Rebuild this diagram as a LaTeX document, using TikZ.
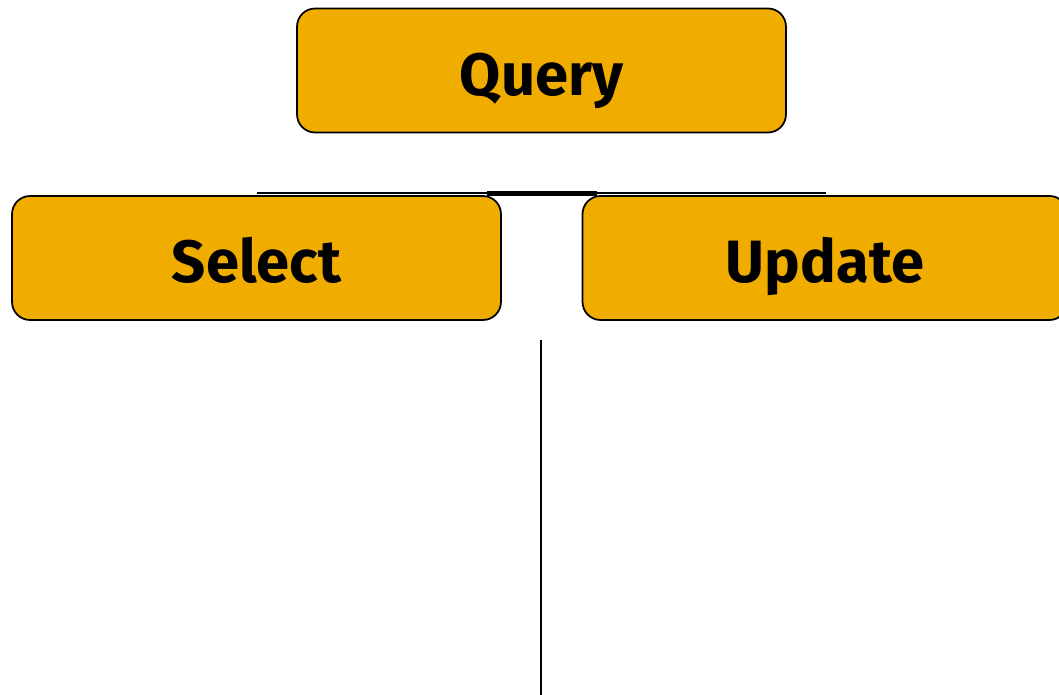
\documentclass[tikz,border=0pt]{standalone}
\usepackage{fontspec}
\setmainfont{Fira Sans}
\usepackage{tikz}
\usetikzlibrary{positioning}

\definecolor{boxgold}{RGB}{240,173,0}
\tikzset{
  qbox/.style={draw=black, line width=1pt, fill=boxgold, rounded corners=0.36cm,
    minimum width=9.78cm, minimum height=2.48cm,
    text height=1.15cm, text depth=0.15cm,
    font=\fontsize{34}{38}\selectfont\bfseries}
}

\begin{document}
\begin{tikzpicture}[x=0.02cm,y=-0.02cm]
\useasboundingbox (0,0) rectangle (1059,695);
\node [qbox] (query) at (541.5,70.5) {Query};
\node [qbox] (select) at (256.5,258) {Select};
\node [qbox, minimum width=9.7cm] (update) at (825,258) {Update};

\coordinate (barl) at (257,193);
\coordinate (barr) at (826,193);
\draw [line width=1.2pt] (barl) -- (barr);
\draw [line width=2.5pt] (487,193.5) -- (597,193.5);
% split line
\coordinate (splittop) at (541,340);
\coordinate (splitbot) at (541,695);
\draw [line width=0.8pt] (splittop) -- (splitbot);
\end{tikzpicture}
\end{document}
